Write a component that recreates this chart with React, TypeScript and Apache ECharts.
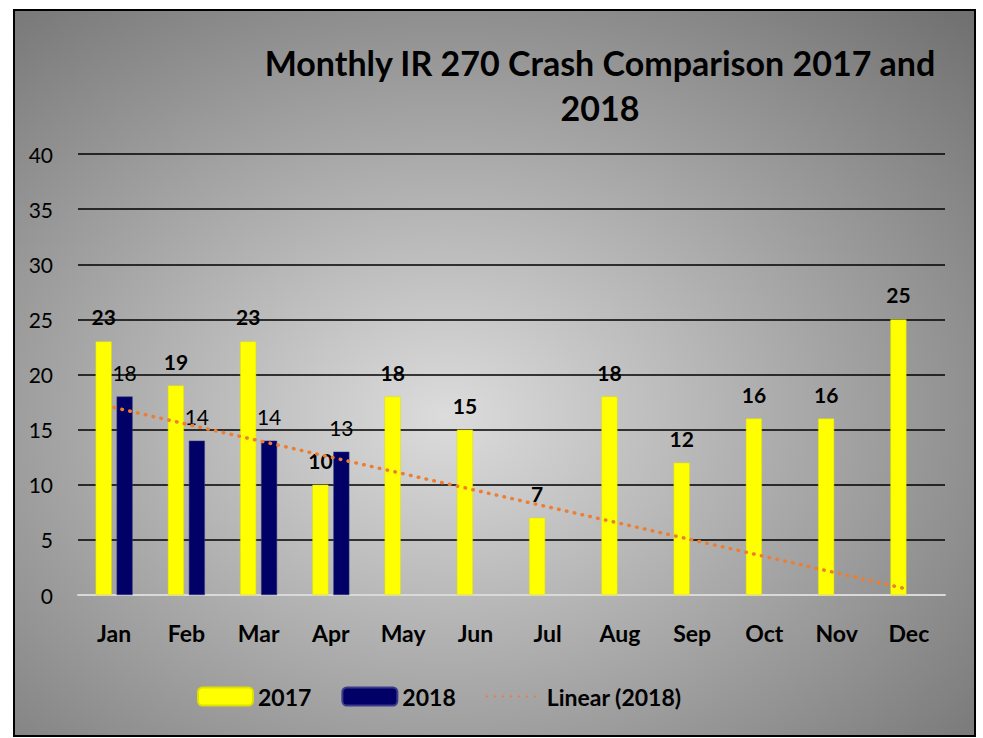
import React, { useEffect, useRef } from "react";
import * as echarts from "echarts";

const months = ["Jan", "Feb", "Mar", "Apr", "May", "Jun", "Jul", "Aug", "Sep", "Oct", "Nov", "Dec"];
const crashes2017 = [23, 19, 23, 10, 18, 15, 7, 18, 12, 16, 16, 25];
const crashes2018: (number | null)[] = [18, 14, 14, 13, null, null, null, null, null, null, null, null];
const trend2018 = [17, 15.5, 14, 12.5, 11, 9.5, 8, 6.5, 5, 3.5, 2, 0.5];
const titleLines = ["Monthly IR 270 Crash Comparison 2017 and", "2018"];
const yMin = 0;
const yMax = 40;
const yStep = 5;

const FONT = "Lato, 'Open Sans', sans-serif";

export default function App() {
  const ref = useRef<HTMLDivElement>(null);
  useEffect(() => {
    if (!ref.current) return;
    const chart = echarts.init(ref.current, undefined, { renderer: "svg" });
    chart.setOption({
      animation: false,
      backgroundColor: "#ffffff",
      textStyle: { fontFamily: FONT },
      graphic: [
        {
          type: "rect",
          z: -10,
          silent: true,
          shape: { x: 14, y: 10, width: 961, height: 726 },
          style: {
            fill: {
              type: "radial",
              x: 0.45,
              y: 0.56,
              r: 0.85,
              colorStops: [
                { offset: 0, color: "#dcdcdc" },
                { offset: 1, color: "#666666" },
              ],
            },
            stroke: "#000000",
            lineWidth: 2,
          },
        },
        {
          type: "text",
          x: 600,
          y: 85,
          style: {
            text: titleLines.join("\n"),
            textAlign: "center",
            textVerticalAlign: "middle",
            fontFamily: FONT,
            fontWeight: "bold",
            fontSize: 34,
            lineHeight: 45,
            fill: "#000000",
          },
        },
      ],
      legend: {
        left: 192,
        top: 680,
        itemWidth: 55,
        itemHeight: 18,
        itemGap: 30,
        textStyle: { fontFamily: FONT, fontWeight: "bold", fontSize: 23, color: "#000" },
        data: [
          "2017",
          "2018",
          { name: "Linear (2018)", itemStyle: { color: "rgba(0,0,0,0)", opacity: 0, borderWidth: 0 } },
        ],
      },
      grid: { left: 78, right: 38, top: 154, bottom: 143 },
      xAxis: {
        type: "category",
        data: months,
        axisLine: { lineStyle: { color: "#d9d9d9", width: 2 } },
        axisTick: { show: false },
        axisLabel: { fontFamily: FONT, fontWeight: "bold", fontSize: 23, color: "#000", margin: 26 },
      },
      yAxis: {
        type: "value",
        min: yMin,
        max: yMax,
        interval: yStep,
        axisLine: { show: false },
        axisTick: { show: false },
        splitLine: { lineStyle: { color: "#000", width: 1.5 } },
        axisLabel: { fontFamily: FONT, fontSize: 21, color: "#000", margin: 25 },
      },
      series: [
        {
          name: "2017",
          type: "bar",
          data: crashes2017,
          barWidth: 16,
          barGap: "31%",
          itemStyle: { color: "#ffff00", borderColor: "#e0e000", borderWidth: 0.5 },
          label: {
            show: true,
            position: "top",
            distance: 14,
            fontFamily: FONT,
            fontWeight: "bold",
            fontSize: 21,
            color: "#000",
          },
        },
        {
          name: "2018",
          type: "bar",
          data: crashes2018,
          barWidth: 16,
          itemStyle: { color: "#000066", borderColor: "#3a3a8a", borderWidth: 0.5 },
          label: {
            show: true,
            position: "top",
            distance: 14,
            fontFamily: FONT,
            fontSize: 21,
            color: "#000",
          },
        },
        {
          name: "Linear (2018)",
          type: "line",
          data: trend2018,
          symbol: "none",
          z: 5,
          lineStyle: { color: "#ed7d31", width: 3.5, type: [0.5, 7.5], cap: "round" },
          itemStyle: { color: "#ed7d31" },
        },
      ],
    });
    return () => chart.dispose();
  }, []);
  return (
    <div
      ref={ref}
      style={{ position: "absolute", left: 0, top: 0, width: 983, height: 738 }}
    />
  );
}
